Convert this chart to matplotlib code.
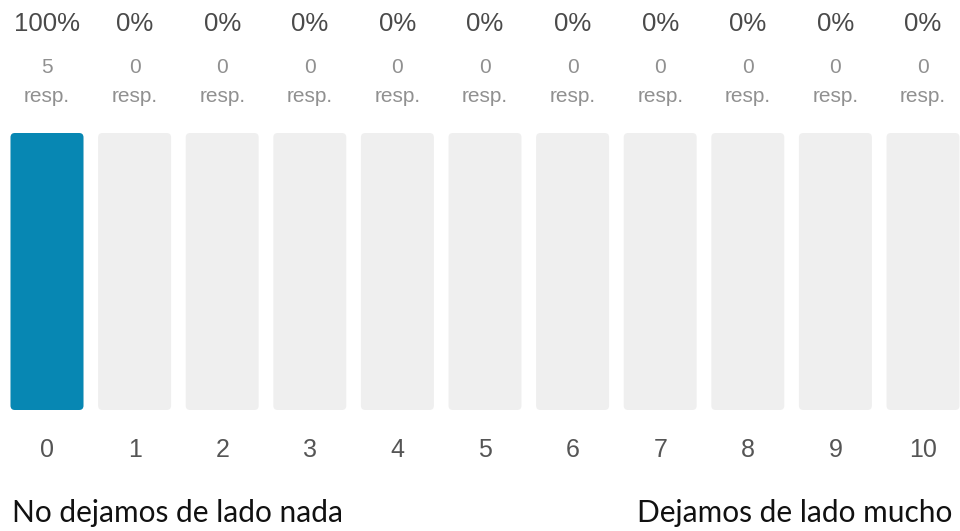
import matplotlib
matplotlib.use('Agg')
import matplotlib.pyplot as plt
from matplotlib.patches import FancyBboxPatch

# data
scores = ['0', '1', '2', '3', '4', '5', '6', '7', '8', '9', '10']
responses = [5, 0, 0, 0, 0, 0, 0, 0, 0, 0, 0]
pct_labels = ['100%', '0%', '0%', '0%', '0%', '0%', '0%', '0%', '0%', '0%', '0%']
left_label = 'No dejamos de lado nada'
right_label = 'Dejamos de lado mucho'

total = sum(responses)
fracs = [r / total for r in responses]

fig = plt.figure(figsize=(9.6, 5.31), dpi=100)
ax = fig.add_axes([0, 0, 1, 1])
ax.set_xlim(-47 / 87.6, (960 - 47) / 87.6)
ax.set_ylim(-(531 - 410) / 277, 1 + 133 / 277)
ax.axis('off')

bw = 0.833
asp = 87.6 / 277
for i, f in enumerate(fracs):
    bg = FancyBboxPatch((i - bw / 2, 0), bw, 1, boxstyle='round,pad=0,rounding_size=0.05',
                        mutation_aspect=asp, fc='#efefef', ec='none')
    ax.add_patch(bg)
    if f > 0:
        fg = FancyBboxPatch((i - bw / 2, 0), bw, f, boxstyle='round,pad=0,rounding_size=0.05',
                            mutation_aspect=asp, fc='#0787b3', ec='none')
        ax.add_patch(fg)
    ax.text(i, 1.395, pct_labels[i], ha='center', va='center', fontsize=18.5,
            color='#4a4a4a', family='Liberation Sans')
    ax.text(i, 1.235, str(responses[i]), ha='center', va='center', fontsize=15,
            color='#909090', family='Liberation Sans')
    ax.text(i, 1.13, 'resp.', ha='center', va='center', fontsize=15,
            color='#909090', family='Liberation Sans')
    ax.text(i, -0.144, scores[i], ha='center', va='center', fontsize=18,
            color='#555555', family='Liberation Sans')

ax.text(12 / 87.6 - 47 / 87.6, -0.372, left_label, ha='left', va='center', fontsize=21.5,
        color='#111111', family='Lato')
ax.text(952 / 87.6 - 47 / 87.6, -0.372, right_label, ha='right', va='center', fontsize=21.5,
        color='#111111', family='Lato')

fig.savefig('out.png', dpi=100, facecolor='white')
